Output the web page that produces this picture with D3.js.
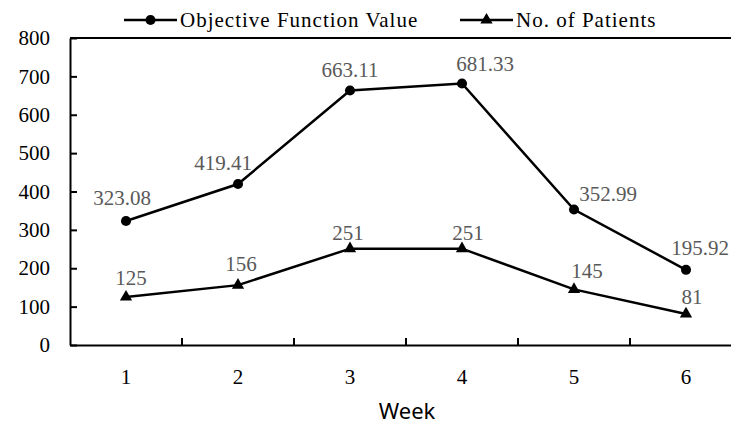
<!DOCTYPE html>
<html>
<head>
<meta charset="utf-8">
<script src="https://cdn.jsdelivr.net/npm/d3@7"></script>
<style>
  body { margin: 0; background: #fff; }
  svg { display: block; }
</style>
</head>
<body>
<div id="chart"></div>
<script>
// data
const weeks = [1, 2, 3, 4, 5, 6];
const objectiveValues = [323.08, 419.41, 663.11, 681.33, 352.99, 195.92];
const patientCounts = [125, 156, 251, 251, 145, 81];
const yTicks = [0, 100, 200, 300, 400, 500, 600, 700, 800];

// where each data label sits relative to its point (px)
const objLabelShift = [[-4, -23], [-15, -21], [0, -21], [23, -20], [34, -16], [14, -22]];
const patLabelShift = [[5, -19], [3, -21], [-2, -16], [6, -16], [13, -19], [6, -17]];

const width = 731, height = 425;
const plotLeft = 70, plotRight = 742, plotTop = 38, plotBottom = 345;
const serif = '"Liberation Serif", "DejaVu Serif", serif';

const svg = d3.select('#chart').append('svg')
    .attr('width', width)
    .attr('height', height);

const x = d3.scaleBand().domain(weeks).range([plotLeft, plotRight]).padding(0);
const y = d3.scaleLinear().domain([0, 800]).range([plotBottom, plotTop]);
const cx = d => x(d) + x.bandwidth() / 2;

// frame: top line
svg.append('line')
    .attr('x1', plotLeft).attr('x2', plotRight)
    .attr('y1', y(800)).attr('y2', y(800))
    .attr('stroke', '#000').attr('stroke-width', 2);

// y axis, ticks pointing inward
const yAxis = svg.append('g')
    .attr('transform', 'translate(' + plotLeft + ',0)')
    .call(d3.axisLeft(y).tickValues(yTicks).tickSize(-7).tickSizeOuter(0).tickPadding(20))
    .attr('font-family', serif)
    .attr('font-size', 21);
yAxis.select('.domain').attr('stroke', '#000').attr('stroke-width', 2);
yAxis.selectAll('.tick line').attr('stroke', '#000').attr('stroke-width', 2);
yAxis.selectAll('.tick text').attr('fill', '#000');

// x axis, labels at band centres, ticks at band edges
const xAxis = svg.append('g')
    .attr('transform', 'translate(0,' + plotBottom + ')')
    .call(d3.axisBottom(x).tickSize(0).tickPadding(24))
    .attr('font-family', serif)
    .attr('font-size', 21);
xAxis.select('.domain').attr('stroke', '#000').attr('stroke-width', 2);
xAxis.selectAll('.tick text').attr('fill', '#000');
svg.append('g').selectAll('line')
    .data(weeks.slice(1))
    .enter().append('line')
    .attr('x1', d => x(d)).attr('x2', d => x(d))
    .attr('y1', plotBottom).attr('y2', plotBottom - 7)
    .attr('stroke', '#000').attr('stroke-width', 2);

svg.append('text')
    .attr('x', 407)
    .attr('y', 411)
    .attr('dy', '0.35em')
    .attr('text-anchor', 'middle')
    .attr('font-family', '"Noto Sans", sans-serif')
    .attr('font-size', 22)
    .attr('fill', '#000')
    .text('Week');

const line = d3.line().x((d, i) => cx(weeks[i])).y(d => y(d));

function drawSeries(values, shifts, symbol, size) {
    svg.append('path')
        .datum(values)
        .attr('d', line)
        .attr('fill', 'none')
        .attr('stroke', '#000')
        .attr('stroke-width', 2.5);

    svg.append('g').selectAll('path')
        .data(values)
        .enter().append('path')
        .attr('d', d3.symbol().type(symbol).size(size))
        .attr('transform', (d, i) => 'translate(' + cx(weeks[i]) + ',' + y(d) + ')')
        .attr('fill', '#000');

    svg.append('g').selectAll('text')
        .data(values)
        .enter().append('text')
        .attr('x', (d, i) => cx(weeks[i]) + shifts[i][0])
        .attr('y', (d, i) => y(d) + shifts[i][1])
        .attr('dy', '0.35em')
        .attr('text-anchor', 'middle')
        .attr('font-family', serif)
        .attr('font-size', 21)
        .attr('fill', '#595959')
        .text(d => d);
}

drawSeries(objectiveValues, objLabelShift, d3.symbolCircle, 80);
drawSeries(patientCounts, patLabelShift, d3.symbolTriangle, 65);

// legend
const legendItems = [
    { name: 'Objective Function Value', symbol: d3.symbolCircle, size: 80, x: 124 },
    { name: 'No. of Patients', symbol: d3.symbolTriangle, size: 65, x: 460 }
];
const legend = svg.append('g').selectAll('g')
    .data(legendItems)
    .enter().append('g')
    .attr('transform', d => 'translate(' + d.x + ',20)');
legend.append('line')
    .attr('x1', 0).attr('x2', 53)
    .attr('stroke', '#000').attr('stroke-width', 2.5);
legend.append('path')
    .attr('d', d => d3.symbol().type(d.symbol).size(d.size)())
    .attr('transform', 'translate(26.5,0)')
    .attr('fill', '#000');
legend.append('text')
    .attr('x', 56)
    .attr('dy', '0.35em')
    .attr('font-family', serif)
    .attr('font-size', 21)
    .attr('letter-spacing', 1)
    .attr('fill', '#000')
    .text(d => d.name);
</script>
</body>
</html>
